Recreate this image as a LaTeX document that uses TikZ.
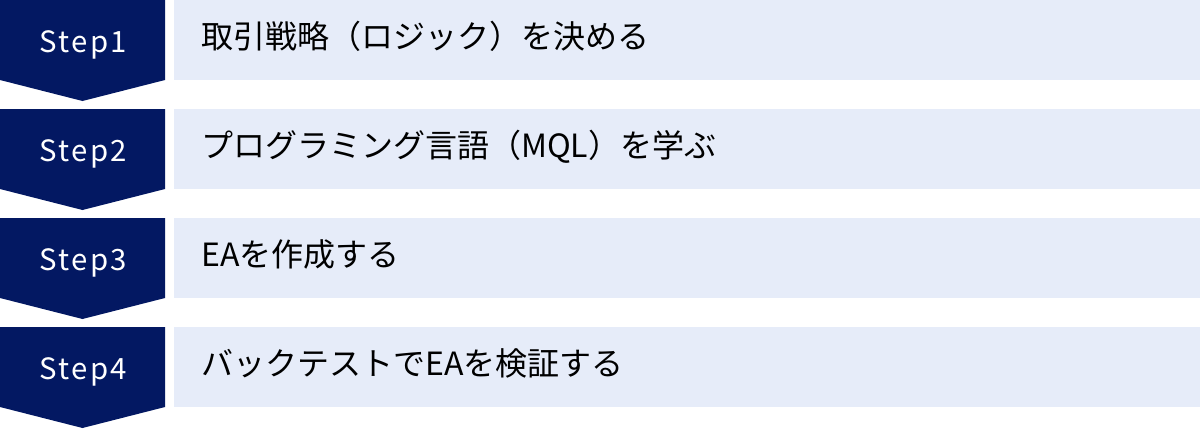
\documentclass[tikz,border=0pt]{standalone}
\usepackage{fontspec}
\setmainfont{Noto Sans CJK JP}
\newfontfamily\stepfont[LetterSpace=8]{Noto Sans CJK JP}
\definecolor{stepnavy}{RGB}{3,24,98}
\definecolor{steplight}{RGB}{230,236,249}
\begin{document}
\begin{tikzpicture}[x=0.75pt,y=-0.75pt]
\tikzstyle{every node}+=[inner sep=0pt]
\tikzstyle{steplabel}=[anchor=base,text=white,font=\stepfont\fontsize{22}{26}\selectfont]
\tikzstyle{task}=[anchor=base west,text=black,font=\fontsize{24}{28}\selectfont]
\useasboundingbox (0,0) rectangle (1200,429);
% Step1
\fill [steplight] (174,0) rectangle (1200,80);
\fill [stepnavy] (0,0) -- (165,0) -- (165,80) -- (82.5,101) -- (0,80) -- cycle;
\node [steplabel] (s1) at (83.5,52.3) {Step1};
\node [task] (t1) at (201,48.5) {取引戦略（ロジック）を決める};
% Step2
\fill [steplight] (174,109) rectangle (1200,189);
\fill [stepnavy] (0,109) -- (165,109) -- (165,189) -- (82.5,210) -- (0,189) -- cycle;
\node [steplabel] (s2) at (83.5,161.3) {Step2};
\node [task] (t2) at (201,157.5) {プログラミング言語（MQL）を学ぶ};
% Step3
\fill [steplight] (174,218) rectangle (1200,298);
\fill [stepnavy] (0,218) -- (165,218) -- (165,298) -- (82.5,319) -- (0,298) -- cycle;
\node [steplabel] (s3) at (83.5,270.3) {Step3};
\node [task] (t3) at (201,266.5) {EAを作成する};
% Step4
\fill [steplight] (174,327) rectangle (1200,407);
\fill [stepnavy] (0,327) -- (165,327) -- (165,407) -- (82.5,428) -- (0,407) -- cycle;
\node [steplabel] (s4) at (83.5,379.3) {Step4};
\node [task] (t4) at (201,375.5) {バックテストでEAを検証する};
\end{tikzpicture}
\end{document}
